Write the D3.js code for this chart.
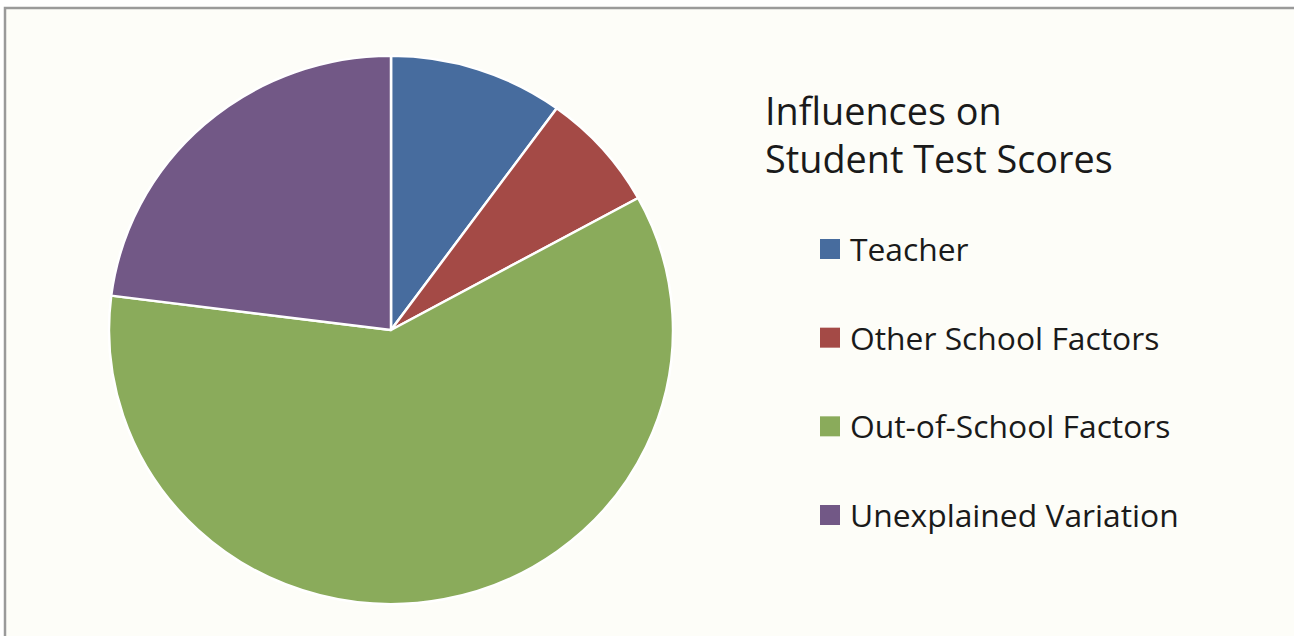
<!DOCTYPE html>
<html>
<head>
<meta charset="utf-8">
<script src="https://cdn.jsdelivr.net/npm/d3@7"></script>
<style>
  body { margin: 0; background: #ffffff; }
  svg { display: block; }
</style>
</head>
<body>
<svg id="chart" width="1294" height="636"></svg>
<script>
const categories = ["Teacher", "Other School Factors", "Out-of-School Factors", "Unexplained Variation"];
const values = [10, 7, 60, 23];
const colors = ["#476c9e", "#a44a46", "#8aab5b", "#725886"];
const titleLines = ["Influences on", "Student Test Scores"];

const svg = d3.select("#chart");

// panel with grey frame on top and left
svg.append("rect")
  .attr("x", 0).attr("y", 0).attr("width", 1294).attr("height", 636)
  .attr("fill", "#ffffff");
svg.append("rect")
  .attr("x", 5).attr("y", 8).attr("width", 1300).attr("height", 640)
  .attr("fill", "#fdfdf8")
  .attr("stroke", "#9a9a9a")
  .attr("stroke-width", 2.5);

let data = categories.map((c, i) => ({name: c, value: values[i], color: colors[i]}));

let pie = d3.pie().sort(null).value(d => d.value);
let radius = 282;
let arc = d3.arc().innerRadius(0).outerRadius(radius);

let pieG = svg.append("g")
  .attr("transform", "translate(391 330) scale(1 0.972)");

pieG.selectAll("path")
  .data(pie(data))
  .join("path")
    .attr("d", arc)
    .attr("fill", d => d.data.color)
    .attr("stroke", "#ffffff")
    .attr("stroke-width", 2.5)
    .attr("stroke-linejoin", "round");

// title
svg.append("text")
  .attr("x", 765)
  .attr("y", 125)
  .attr("font-family", "Open Sans")
  .attr("font-size", 37.8)
  .attr("fill", "#1a1a1a")
  .selectAll("tspan")
  .data(titleLines)
  .join("tspan")
    .attr("x", 765)
    .attr("dy", (d, i) => i === 0 ? 0 : 48)
    .text(d => d);

// legend
let legend = svg.append("g").attr("transform", "translate(820 0)");
let rowY = d3.scalePoint().domain(categories).range([249, 515]);

let rows = legend.selectAll("g")
  .data(data)
  .join("g")
    .attr("transform", d => `translate(0 ${rowY(d.name)})`);
rows.append("rect")
  .attr("x", 0).attr("y", -10)
  .attr("width", 20).attr("height", 20)
  .attr("fill", d => d.color);
rows.append("text")
  .attr("x", 30)
  .attr("y", 12)
  .attr("font-family", "Open Sans")
  .attr("font-size", 31.8)
  .attr("fill", "#1a1a1a")
  .text(d => d.name);
</script>
</body>
</html>
